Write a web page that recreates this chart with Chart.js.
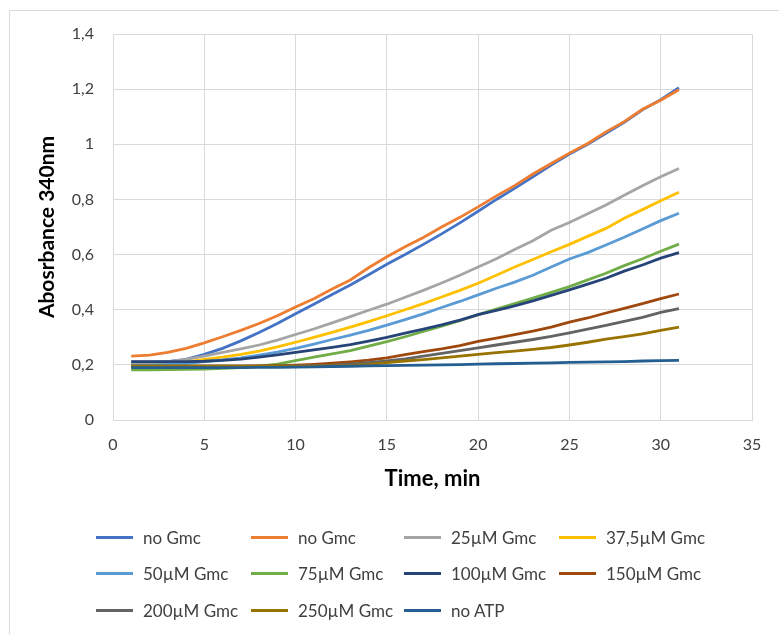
<!DOCTYPE html>
<html>
<head>
<meta charset="utf-8">
<script src="https://cdn.jsdelivr.net/npm/chart.js@4.4.0/dist/chart.umd.min.js"></script>
<style>
  html, body { margin: 0; padding: 0; background: #fff; }
  #wrap { position: relative; width: 779px; height: 634px; overflow: hidden; }
  #frame { position: absolute; left: 9px; top: 10px; width: 800px; height: 700px; border: 1px solid #d9d9d9; box-sizing: border-box; }
  #c { position: absolute; left: 0; top: 0; }
  .li { position: absolute; height: 20px; display: flex; align-items: center; white-space: nowrap;
        font-family: Lato, "Noto Sans", sans-serif; font-size: 17px; color: #404040; }
  .li span.sw { display: inline-block; width: 37px; height: 3px; margin-right: 10px; }
</style>
</head>
<body>
<div id="wrap">
  <div id="frame"></div>
  <canvas id="c" width="779" height="634"></canvas>
  <div id="legend"></div>
</div>
<script>
const times = [1,2,3,4,5,6,7,8,9,10,11,12,13,14,15,16,17,18,19,20,21,22,23,24,25,26,27,28,29,30,31];

const seriesNames = ["no Gmc","no Gmc","25µM Gmc","37,5µM Gmc","50µM Gmc","75µM Gmc","100µM Gmc","150µM Gmc","200µM Gmc","250µM Gmc","no ATP"];
const seriesColors = ["#4472C4","#ED7D31","#A5A5A5","#FFC000","#5B9BD5","#70AD47","#264478","#9E480E","#636363","#997300","#255E91"];

const noGmcA = [0.21,0.21,0.212,0.22,0.238,0.26,0.287,0.317,0.35,0.385,0.42,0.455,0.49,0.527,0.565,0.6,0.637,0.675,0.715,0.757,0.8,0.84,0.882,0.925,0.965,1.0,1.04,1.08,1.125,1.162,1.205];
const noGmcB = [0.232,0.235,0.245,0.26,0.28,0.302,0.325,0.35,0.378,0.41,0.44,0.475,0.508,0.552,0.592,0.628,0.662,0.7,0.735,0.773,0.813,0.85,0.892,0.93,0.968,1.003,1.045,1.082,1.127,1.16,1.198];
const gmc25 = [0.21,0.21,0.212,0.22,0.232,0.245,0.258,0.272,0.29,0.31,0.33,0.352,0.375,0.398,0.42,0.445,0.47,0.497,0.525,0.555,0.585,0.618,0.65,0.688,0.716,0.748,0.78,0.815,0.85,0.882,0.912];
const gmc375 = [0.2,0.2,0.203,0.21,0.22,0.228,0.238,0.25,0.265,0.282,0.3,0.318,0.337,0.357,0.378,0.4,0.422,0.446,0.47,0.496,0.525,0.555,0.582,0.61,0.637,0.666,0.695,0.732,0.763,0.795,0.826];
const gmc50 = [0.2,0.2,0.202,0.205,0.212,0.218,0.225,0.235,0.246,0.26,0.275,0.292,0.308,0.325,0.344,0.364,0.385,0.408,0.43,0.454,0.478,0.5,0.525,0.555,0.584,0.607,0.635,0.663,0.693,0.723,0.75];
const gmc75 = [0.182,0.182,0.183,0.184,0.185,0.187,0.19,0.195,0.203,0.215,0.228,0.24,0.252,0.268,0.284,0.302,0.321,0.34,0.36,0.382,0.402,0.422,0.442,0.463,0.484,0.508,0.532,0.56,0.585,0.612,0.638];
const gmc100 = [0.212,0.212,0.212,0.212,0.213,0.216,0.221,0.228,0.236,0.245,0.254,0.263,0.273,0.286,0.3,0.315,0.33,0.345,0.362,0.382,0.398,0.414,0.432,0.452,0.472,0.493,0.514,0.54,0.562,0.587,0.607];
const gmc150 = [0.195,0.195,0.195,0.195,0.195,0.195,0.195,0.196,0.197,0.199,0.202,0.206,0.211,0.217,0.225,0.237,0.248,0.258,0.27,0.285,0.297,0.31,0.322,0.337,0.355,0.37,0.388,0.405,0.422,0.44,0.457];
const gmc200 = [0.195,0.195,0.195,0.195,0.195,0.195,0.195,0.195,0.195,0.196,0.197,0.199,0.203,0.208,0.214,0.222,0.232,0.242,0.252,0.262,0.272,0.282,0.292,0.303,0.316,0.33,0.343,0.358,0.372,0.39,0.404];
const gmc250 = [0.195,0.195,0.195,0.195,0.195,0.195,0.195,0.195,0.195,0.195,0.195,0.196,0.198,0.202,0.208,0.214,0.219,0.225,0.232,0.238,0.244,0.25,0.256,0.263,0.272,0.282,0.293,0.302,0.312,0.325,0.337];
const noATP = [0.19,0.19,0.19,0.19,0.19,0.19,0.19,0.191,0.191,0.192,0.193,0.194,0.195,0.196,0.197,0.198,0.199,0.2,0.201,0.203,0.204,0.205,0.206,0.207,0.209,0.21,0.211,0.212,0.214,0.215,0.216];

const allSeries = [noGmcA,noGmcB,gmc25,gmc375,gmc50,gmc75,gmc100,gmc150,gmc200,gmc250,noATP];

const xTickStep = 5, xMin = 0, xMax = 35;
const yTickStep = 0.2, yMin = 0, yMax = 1.4;

const FONT = 'Lato, "Noto Sans", sans-serif';

const datasets = allSeries.map((vals, i) => ({
  label: seriesNames[i],
  data: vals.map((v, j) => ({x: times[j], y: v})),
  borderColor: seriesColors[i],
  backgroundColor: seriesColors[i],
  borderWidth: 2.8,
  pointRadius: 0,
  tension: 0,
  fill: false,
  order: allSeries.length - i
}));

const chart = new Chart(document.getElementById('c'), {
  type: 'line',
  data: { datasets },
  options: {
    responsive: false,
    animation: false,
    events: [],
    layout: { padding: { left: 0, top: 34, right: 27, bottom: 0 } },
    plugins: { legend: { display: false }, tooltip: { enabled: false } },
    scales: {
      x: {
        type: 'linear', min: xMin, max: xMax,
        ticks: { stepSize: xTickStep, padding: 15, color: '#404040', font: { family: FONT, size: 16 } },
        grid: { color: '#d9d9d9', lineWidth: 1, drawTicks: false },
        border: { color: '#d9d9d9', width: 1 },
        title: { display: true, text: 'Time, min', color: '#000', font: { family: FONT, size: 22, weight: 'bold' }, padding: { top: 0, bottom: 142 } },
        afterFit(s) { s.height = 214; }
      },
      y: {
        min: yMin, max: yMax,
        ticks: { stepSize: yTickStep, padding: 19, color: '#404040', font: { family: FONT, size: 16 },
          callback: (v) => String(Math.round(v * 10) / 10).replace('.', ',') },
        grid: { color: '#d9d9d9', lineWidth: 1, drawTicks: false },
        border: { color: '#d9d9d9', width: 1 },
        title: { display: true, text: 'Abosrbance 340nm', color: '#000', font: { family: FONT, size: 21, weight: 'bold' }, padding: { top: 35, bottom: 0 } },
        afterFit(s) { s.width = 113; }
      }
    }
  }
});

// HTML legend built from the datasets
const legendCols = [96, 251, 404, 559];
const legendRows = [537, 573, 610];
const lg = document.getElementById('legend');
chart.data.datasets.forEach((ds, i) => {
  const d = document.createElement('div');
  d.className = 'li';
  d.style.left = legendCols[i % 4] + 'px';
  d.style.top = (legendRows[Math.floor(i / 4)] - 10) + 'px';
  const sw = document.createElement('span');
  sw.className = 'sw';
  sw.style.background = ds.borderColor;
  d.appendChild(sw);
  d.appendChild(document.createTextNode(ds.label));
  lg.appendChild(d);
});
</script>
</body>
</html>
